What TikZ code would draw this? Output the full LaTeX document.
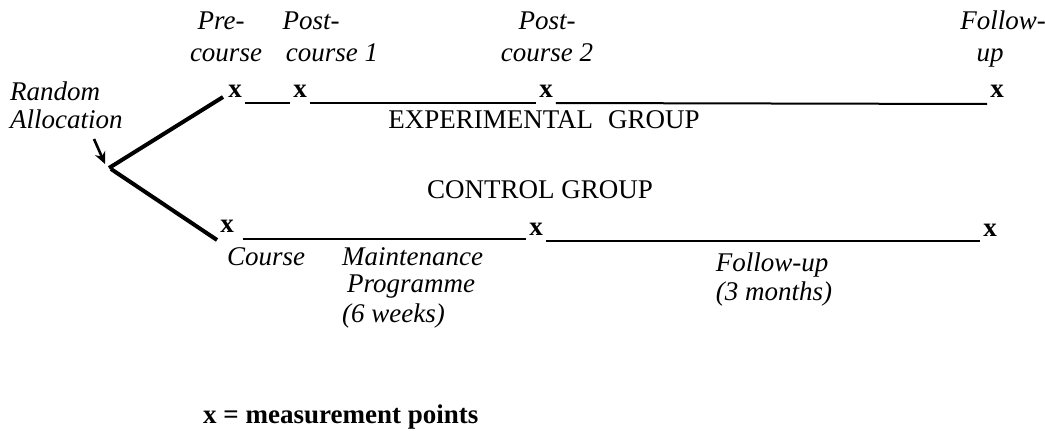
\documentclass[tikz,border=0pt]{standalone}
\usepackage{fontspec}
\setmainfont{Liberation Serif}
\usetikzlibrary{arrows.meta}
\begin{document}
\begin{tikzpicture}[x=1pt,y=-1pt,
  lbl/.style={font=\fontsize{27}{30}\selectfont\itshape, inner sep=0pt, anchor=base},
  grp/.style={font=\fontsize{27}{30}\selectfont, inner sep=0pt, anchor=base},
  xmark/.style={font=\fontsize{27}{30}\selectfont\bfseries, inner ysep=0pt, inner xsep=3pt, anchor=base},
  track/.style={line width=2pt},
  branch/.style={line width=4pt}]
\fill[white] (0,0) rectangle (1045,431);
\useasboundingbox (0,0) rectangle (1045,431);

% measurement labels, experimental group
\node[lbl] (pre1)  at (221,30) {Pre-};
\node[lbl] (pre2)  at (226,61) {course};
\node[lbl] (pa1)   at (311,30) {Post-};
\node[lbl] (pa2)   at (332,61) {course 1};
\node[lbl] (pb1)   at (547,30) {Post-};
\node[lbl] (pb2)   at (547,61) {course 2};
\node[lbl] (fu1)   at (1003,30) {Follow-};
\node[lbl] (fu2)   at (990,61) {up};

\node[lbl,anchor=base west] (rand)  at (10,100) {Random};
\node[lbl,anchor=base west] (alloc) at (10,128) {Allocation};

% experimental time line
\node[xmark] (ex1) at (235,97) {x};
\node[xmark] (ex2) at (300,97) {x};
\node[xmark] (ex3) at (546,97) {x};
\node[xmark] (ex4) at (997,97) {x};
\draw[track] ([yshift=-6pt]ex1.base east) -- ([yshift=-6pt]ex2.base west);
\draw[track] ([yshift=-6pt]ex2.base east) -- ([yshift=-6pt]ex3.base west);
\draw[track] ([yshift=-6pt]ex3.base east) -- ([yshift=-7pt]ex4.base west);

\node[grp] (expg) at (544,128) {EXPERIMENTAL\hspace{0.3em} GROUP};
\node[grp] (ctlg) at (540,198) {CONTROL GROUP};

% control time line
\node[xmark] (cx1) at (227,232) {x};
\node[xmark] (cx2) at (536,235) {x};
\node[xmark] (cx3) at (990,236) {x};
\draw[track] ([xshift=6pt,yshift=-7pt]cx1.base east) -- ([yshift=-4pt]cx2.base west);
\draw[track] ([yshift=-6pt]cx2.base east) -- ([yshift=-5pt]cx3.base west);

% phase labels, control group
\node[lbl,anchor=base west] (crs)  at (227,265) {Course};
\node[lbl,anchor=base west] (mnt1) at (342,265) {Maintenance};
\node[lbl,anchor=base west] (mnt2) at (347,292) {Programme};
\node[lbl,anchor=base west] (mnt3) at (342,322) {(6 weeks)};
\node[lbl] (fol1) at (772,271) {Follow-up};
\node[lbl] (fol2) at (774,300) {(3 months)};

% random split
\coordinate (split) at (109,168);
\coordinate (arrowfrom) at (94,139);
\draw[branch] (split) -- ([xshift=-2pt]ex1.base west);
\draw[branch] ([shift={(2,1)}]split) -- ([yshift=-8pt]cx1.base west);
\draw[line width=2.6pt,-{Stealth[length=12pt,width=11pt]}] (arrowfrom) -- ([shift={(-4,-4)}]split);

% key
\node[font=\fontsize{27}{30}\selectfont\bfseries, inner sep=0pt, anchor=base west] (key) at (203,423) {x = measurement points};
\end{tikzpicture}
\end{document}
